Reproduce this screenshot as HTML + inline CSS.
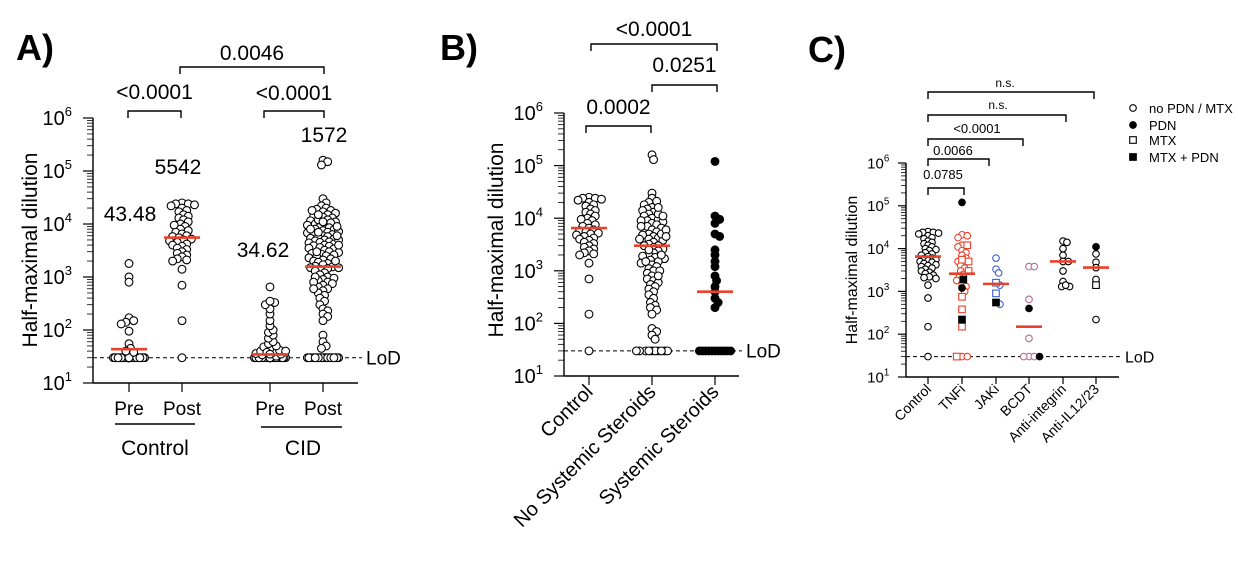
<!DOCTYPE html>
<html><head><meta charset="utf-8">
<style>
html,body{margin:0;padding:0;background:#fff;}
svg{display:block;font-family:"Liberation Sans",Arial,sans-serif;}
</style></head>
<body>
<svg id="fig" width="1238" height="568" viewBox="0 0 1238 568"></svg>
<script>
// ---------- DATA ----------
const aCategories = ["Pre","Post","Pre","Post"];
const aMedians = [43.48, 5542, 34.62, 1572];
const aMedianLabels = ["43.48","5542","34.62","1572"];
const controlPreValues = [30,30,30,30,30,30,30,30,30,30,30,30,30,30,30,30,30,30,30,30,30,30,30,30,30,30,30,30,30,30,30,30,1800,1000,800,170,150,140,130,95,55,45,40,38];
const controlValues = [25000,24000,24000,23000,22000,20000,18000,17000,15000,14000,13000,12000,11000,10000,9500,9000,8000,7500,7000,6500,6000,5800,5500,5200,5000,4800,4500,4200,4000,3800,3500,3300,3000,2800,2600,2400,2200,2100,2000,1400,700,150,30];
const cidPreValues = [30,30,30,30,30,30,30,30,30,30,30,30,30,30,30,30,30,30,30,30,30,30,30,30,30,30,30,30,30,30,30,30,30,30,30,30,30,30,30,30,30,30,30,30,30,32,34,35,36,38,40,42,45,48,50,55,60,70,80,90,100,120,150,200,250,300,330,350,650,38,40,35];
const cidPostValues = [160000,150000,130000,30000,25000,22000,20000,19000,18000,17000,16000,15000,14000,13500,13000,12000,11500,11000,10500,10000,9500,9000,8800,8500,8000,7800,7500,7200,7000,6800,6500,6300,6000,5800,5600,5400,5200,5000,4800,4600,4500,4400,4200,4000,3900,3800,3600,3500,3400,3200,3000,2900,2800,2700,2600,2500,2400,2300,2200,2100,2000,1900,1800,1700,1600,1550,1500,1450,1400,1300,1200,1100,1000,950,900,850,800,750,700,650,600,550,500,450,400,350,300,250,230,200,180,150,80,60,50,45,30,30,30,30,30,30,30,30,30,30,30,30,30,30,30,30,30,30,30,30,12000,9000,7000,5000,4000,3000,2000,1500,1000,800,600,18000,15000,11000,8000,6000];

const bCategories = ["Control","No Systemic Steroids","Systemic Steroids"];
const bMedians = [6500, 3000, 400];
const noSteroidValues = [160000,130000,30000,24000,21000,20000,18000,16000,15000,14000,13000,12000,11000,10000,9500,9000,8500,8000,7500,7000,6500,6000,5500,5000,4800,4500,4200,4000,3800,3500,3200,3000,2800,2600,2400,2200,2000,1900,1800,1700,1600,1500,1400,1300,1200,1100,1000,900,800,700,650,600,550,500,450,400,350,300,250,220,200,180,150,80,70,60,50,30,30,30,30,30,30,30,30,30,30,12000,9000,7000,5000,4000,3000,2000,1500,1000,800,16000,11000,6000,4500,2500];
const steroidValues = [120000,11000,9500,8000,5000,4500,2500,2000,1500,1200,800,650,500,400,300,250,200,30,30,30,30,30,30,30,30,30,30,30];

const cCategories = ["Control","TNFi","JAKi","BCDT","Anti-integrin","Anti-IL12/23"];
const cMedians = [6500, 2600, 1500, 150, 5000, 3600];
// markers: o = no PDN/MTX, p = PDN, s = MTX, q = MTX + PDN
const tnfiValues = [120000,21000,20000,18000,12000,11000,9000,8000,7000,6000,5000,4500,4000,3500,3000,2500,2200,1800,1500,1300,1000,30,30,12000,5500,5000,3000,750,380,150,30,1200,1900,220];
const tnfiMarkers = ["p","o","o","o","o","o","o","o","o","o","o","o","o","o","o","o","o","o","o","o","o","o","o","s","s","s","s","s","s","s","s","p","q","q"];
const jakiValues = [6000,3300,2700,1400,500,1600,900,550];
const jakiMarkers = ["o","o","o","o","o","s","s","q"];
const bcdtValues = [3800,3800,650,80,30,30,30,400,30];
const bcdtMarkers = ["o","o","o","o","o","o","o","p","p"];
const integrinValues = [15000,14000,10000,7000,5000,5000,3000,1700,1300,1300,1400];
const il1223Values = [11000,7500,4800,3600,1900,220,1400];
const il1223Markers = ["p","o","o","o","o","o","s"];
const legendLabels = ["no PDN / MTX","PDN","MTX","MTX + PDN"];
const legendMarkers = ["o","p","s","q"];

// ---------- DRAWING ----------
const NS="http://www.w3.org/2000/svg";
const svg=document.getElementById('fig');
function mk(tag,attrs,parent,text){const e=document.createElementNS(NS,tag);for(const k in attrs)e.setAttribute(k,attrs[k]);if(text!==undefined)e.textContent=text;(parent||svg).appendChild(e);return e;}
const RED="#e8412c";

function makeY(yTop,yBot){return v=>yBot-(Math.log10(v)-1)*(yBot-yTop)/5;}

function swarm(ys,r,maxHalf){
  const idx=ys.map((y,i)=>i).sort((a,b)=>ys[a]-ys[b]);
  const placed=[];const offs=new Array(ys.length).fill(0);
  const d=2*r*0.62;
  idx.forEach(i=>{
    const y=ys[i];let best=0,bestScore=-1;
    for(let k=0;k<80;k++){
      const o=(k%2?1:-1)*Math.ceil(k/2)*r*0.4;
      if(Math.abs(o)>maxHalf)continue;
      let mind=1e9;
      placed.forEach(p=>{const dd=Math.hypot(p[0]-o,p[1]-y);if(dd<mind)mind=dd;});
      if(mind>=d){best=o;break;}
      if(mind>bestScore){bestScore=mind;best=o;}
    }
    offs[i]=best;placed.push([best,y]);
  });
  return offs;
}

function marker(g,type,x,y,r,color,name){
  let e;
  if(type==="o"||type==="p"){
    e=mk('circle',{cx:x,cy:y,r:r,fill:type==="p"?"#000":"#fff",stroke:type==="p"?"#000":color,'stroke-width':1.1},g);
  }else{
    e=mk('rect',{x:x-r,y:y-r,width:2*r,height:2*r,fill:type==="q"?"#000":"#fff",stroke:type==="q"?"#000":color,'stroke-width':1.1},g);
  }
  
  
}

function axes(g,o){
  const Y=o.Y;
  mk('line',{x1:o.x0,y1:o.yTop,x2:o.x0,y2:o.yBot,stroke:'#000','stroke-width':1.4},g);
  mk('line',{x1:o.x0,y1:o.yBot,x2:o.x1,y2:o.yBot,stroke:'#000','stroke-width':1.4},g);
  for(let e=1;e<=6;e++){
    const y=Y(Math.pow(10,e));
    mk('line',{x1:o.x0-o.maj,y1:y,x2:o.x0,y2:y,stroke:'#000','stroke-width':1.2},g);
    const t=mk('text',{x:o.x0-o.maj-2-o.fs*0.45,y:y+o.fs*0.36,'font-size':o.fs,'text-anchor':'end'},g);
    
    mk('tspan',{},t,"10");
    mk('tspan',{dy:-o.fs*0.45,'font-size':o.fs*0.65},t,String(e));
    if(e<6)for(let m=2;m<=9;m++){const ym=Y(m*Math.pow(10,e));mk('line',{x1:o.x0-o.min,y1:ym,x2:o.x0,y2:ym,stroke:'#000','stroke-width':0.8},g);}
  }
  const yl=Y(30);
  mk('line',{x1:o.x0,y1:yl,x2:o.lodEnd,y2:yl,stroke:'#000','stroke-width':1,'stroke-dasharray':'4,3'},g);
  const lt=mk('text',{x:o.lodEnd+4,y:yl+o.lodFs*0.36,'font-size':o.lodFs},g,"LoD");
  
  const tt=mk('text',{x:0,y:0,'font-size':o.titleFs,'text-anchor':'middle',transform:`translate(${o.titleX},${o.titleY}) rotate(-90)`},g,"Half-maximal dilution");
  
}

function group(g,o,cx,values,markers,color,r,maxHalf,median,mw,name){
  const ys=values.map(v=>o.Y(v));
  const offs=swarm(ys,r,maxHalf);
  mk('line',{x1:cx,y1:o.yBot,x2:cx,y2:o.yBot+o.tick,stroke:'#000','stroke-width':1.2},g);
  values.forEach((v,i)=>marker(g,markers?markers[i]:"o",cx+offs[i],ys[i],r,color,name+'-point'));
  const ym=o.Y(median);
  const l=mk('line',{x1:cx-mw/2,y1:ym,x2:cx+mw/2,y2:ym,stroke:RED,'stroke-width':2.6},g);
  
}

function bracket(g,x1,x2,y,label,fs,ty,name,tx){
  mk('path',{d:`M${x1},${y+7}V${y}H${x2}V${y+7}`,fill:'none',stroke:'#000','stroke-width':1.4},g);
  const t=mk('text',{x:tx!==undefined?tx:(x1+x2)/2,y:ty,'font-size':fs,'text-anchor':'middle'},g,label);
  
}

function panelLabel(x,y,txt){const t=mk('text',{x:x,y:y,'font-size':36,'font-weight':'bold'},svg,txt);}

// ----- Panel A -----
(function(){
  const g=mk('g',{});
  const o={x0:93,x1:358,yTop:118,yBot:383,fs:20,maj:10,min:6,tick:9,lodEnd:362,lodFs:19,titleFs:21,titleX:37,titleY:250};
  o.Y=makeY(o.yTop,o.yBot);
  axes(g,o);
  const xs=[129,182,270,323];
  const sets=[controlPreValues,controlValues,cidPreValues,cidPostValues];
  const lx=[130,178,263,324], ly=[221,174,257,142];
  sets.forEach((vals,i)=>{
    group(g,o,xs[i],vals,null,'#000',3.9,17,aMedians[i],36,'a-'+aCategories[i].toLowerCase()+i);
    const t=mk('text',{x:xs[i],y:415,'font-size':19,'text-anchor':'middle'},g,aCategories[i]);
    const m=mk('text',{x:lx[i],y:ly[i],'font-size':21,'text-anchor':'middle'},g,aMedianLabels[i]);
  });
  mk('line',{x1:115,y1:424,x2:195,y2:424,stroke:'#000','stroke-width':1.4},g);
  mk('line',{x1:261,y1:427,x2:342,y2:427,stroke:'#000','stroke-width':1.4},g);
  let t=mk('text',{x:155,y:455,'font-size':21,'text-anchor':'middle'},g,"Control");
  t=mk('text',{x:303,y:455,'font-size':21,'text-anchor':'middle'},g,"CID");
  bracket(g,128,181,111,"<0.0001",21,99,'a-bracket-control');
  bracket(g,264,324,111,"<0.0001",21,100,'a-bracket-cid');
  bracket(g,180,324,67,"0.0046",21,60,'a-bracket-post');
  panelLabel(16,60,"A)");
})();

// ----- Panel B -----
(function(){
  const g=mk('g',{});
  const o={x0:564,x1:739,yTop:113,yBot:376,fs:20,maj:10,min:6,tick:9,lodEnd:742,lodFs:19,titleFs:21,titleX:503,titleY:240};
  o.Y=makeY(o.yTop,o.yBot);
  axes(g,o);
  const xs=[589,652,715];
  const sets=[controlValues,noSteroidValues,steroidValues];
  const mks=[null,null,steroidValues.map(()=> "p")];
  sets.forEach((vals,i)=>{
    group(g,o,xs[i],vals,mks[i],'#000',3.9,17,bMedians[i],36,'b-group'+i);
    const t=mk('text',{x:0,y:0,'font-size':20,'text-anchor':'end',transform:`translate(${xs[i]+5},${393}) rotate(-45)`},g,bCategories[i]);
    
  });
  bracket(g,586,651,126,"0.0002",21,114,'b-bracket-1');
  bracket(g,652,717,85,"0.0251",21,72,'b-bracket-2');
  bracket(g,591,717,44,"<0.0001",21,36,'b-bracket-3');
  panelLabel(440,60,"B)");
})();

// ----- Panel C -----
(function(){
  const g=mk('g',{});
  const o={x0:906,x1:1119,yTop:163,yBot:377,fs:15,maj:8,min:5,tick:7,lodEnd:1121,lodFs:16,titleFs:16,titleX:857,titleY:270};
  o.Y=makeY(o.yTop,o.yBot);
  axes(g,o);
  const xs=[928,962,996,1029,1063,1096];
  const sets=[controlValues,tnfiValues,jakiValues,bcdtValues,integrinValues,il1223Values];
  const mks=[null,tnfiMarkers,jakiMarkers,bcdtMarkers,null,il1223Markers];
  const cols=['#000',RED,'#3a5fd0','#b0708e','#000','#000'];
  sets.forEach((vals,i)=>{
    group(g,o,xs[i],vals,mks[i],cols[i],3.3,13,cMedians[i],26,'c-group'+i);
    const t=mk('text',{x:0,y:0,'font-size':14,'text-anchor':'end',transform:`translate(${xs[i]+4},${390}) rotate(-45)`},g,cCategories[i]);
    
  });
  bracket(g,928,964,188,"0.0785",13,179,'c-bracket-1',943);
  bracket(g,928,989,159,"0.0066",13,155,'c-bracket-2',953);
  bracket(g,928,1023,139,"<0.0001",13,133,'c-bracket-3',977);
  bracket(g,928,1066,115,"n.s.",12,109,'c-bracket-4',998);
  bracket(g,928,1094,92,"n.s.",12,87,'c-bracket-5',1005);
  const lg=mk('g',{},g);
  const ly=[109,126,141,158];
  legendLabels.forEach((lab,i)=>{
    marker(lg,legendMarkers[i],1133,ly[i]-1,3.3,'#000','legend-marker');
    const t=mk('text',{x:1149,y:ly[i]+4,'font-size':13},lg,lab);
  });
  panelLabel(808,62,"C)");
})();
</script>
</body></html>
